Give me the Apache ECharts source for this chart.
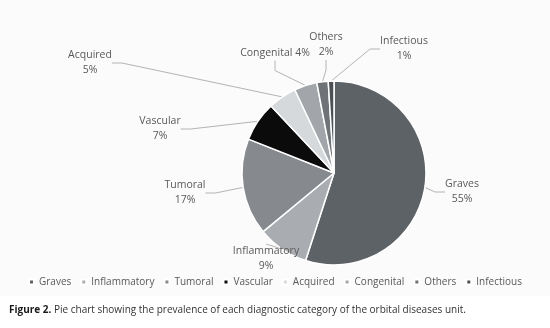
<!DOCTYPE html>
<html>
<head>
<meta charset="utf-8">
<script src="https://cdn.jsdelivr.net/npm/echarts@6/dist/echarts.min.js"></script>
<style>
  html, body { margin: 0; padding: 0; background: #ffffff; }
  #chart { width: 550px; height: 328px; }
</style>
</head>
<body>
<div id="chart"></div>
<script>
// Diagnostic categories of the orbital diseases unit (percent of cases)
const categories = ['Graves', 'Inflammatory', 'Tumoral', 'Vascular', 'Acquired', 'Congenital', 'Others', 'Infectious'];
const shares = [55, 9, 17, 7, 5, 4, 2, 1];
const sliceColors = ['#5d6267', '#a9adb1', '#868a8f', '#0b0b0b', '#d6d9dc', '#a2a6aa', '#6f7378', '#4c5055'];

// Where each outside label sits (label anchor, px)
const labelSpots = {
  Graves:       { x: 462, y: 192 },
  Inflammatory: { x: 266, y: 259 },
  Tumoral:      { x: 185, y: 193 },
  Vascular:     { x: 160, y: 129 },
  Acquired:     { x: 90,  y: 63 },
  Congenital:   { x: 275, y: 53 },
  Others:       { x: 326, y: 45 },
  Infectious:   { x: 404, y: 49 }
};

const chart = echarts.init(document.getElementById('chart'), null, { renderer: 'canvas' });
const font = '"Open Sans", "DejaVu Sans", sans-serif';

chart.setOption({
  animation: false,
  backgroundColor: '#ffffff',
  color: sliceColors,
  graphic: [
    { type: 'rect', z: -10, shape: { x: 0, y: 0, width: 550, height: 296 }, style: { fill: '#fbfbfb' } },
    {
      type: 'text', left: 9, top: 305,
      style: {
        rich: {
          b: { fontWeight: 'bold', fontSize: 10, fontFamily: font, fill: '#1a1a1a' },
          n: { fontSize: 10, fontFamily: font, fill: '#333' }
        },
        text: '{b|Figure 2.}{n| Pie chart showing the prevalence of each diagnostic category of the orbital diseases unit.}'
      }
    }
  ],
  legend: {
    top: 272,
    left: 'center',
    width: 545,
    icon: 'rect',
    itemWidth: 5,
    itemHeight: 5,
    itemGap: 9,
    textStyle: { color: '#595959', fontSize: 10, fontFamily: font },
    data: categories
  },
  series: [{
    type: 'pie',
    center: [334, 173],
    radius: 92,
    startAngle: 90,
    clockwise: true,
    itemStyle: { borderColor: '#ffffff', borderWidth: 1.5 },
    label: {
      show: true,
      position: 'outside',
      color: '#595959',
      fontSize: 10.5,
      lineHeight: 15,
      fontFamily: font,
      formatter: p => p.name === 'Congenital' ? p.name + ' ' + p.value + '%' : p.name + '\n' + p.value + '%'
    },
    labelLine: {
      show: true,
      length: 10,
      length2: 10,
      lineStyle: { color: '#b4b4b4', width: 1 }
    },
    labelLayout: function (params) {
      const s = labelSpots[categories[params.dataIndex]];
      return { x: s.x, y: s.y, align: 'center', verticalAlign: 'middle', moveOverlap: false };
    },
    data: categories.map((c, i) => ({ name: c, value: shares[i] }))
  }]
});
</script>
</body>
</html>
